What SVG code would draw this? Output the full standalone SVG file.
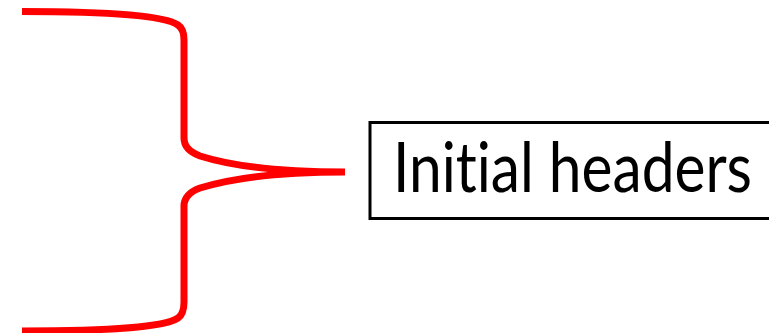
<svg xmlns="http://www.w3.org/2000/svg" width="769" height="333" viewBox="0 0 769 333">
<style>
.brace{fill:none;stroke:#ff0000;stroke-width:7;stroke-linejoin:miter;stroke-linecap:butt}
.box{fill:#ffffff;stroke:#000000;stroke-width:3}
.lbl{font-family:Lato,"Open Sans","Liberation Sans",sans-serif;font-size:70px;fill:#000000;font-variant-ligatures:none;font-feature-settings:"liga" 0,"dlig" 0}
</style>
<rect width="769" height="333" fill="#ffffff"/>
<g id="connectors">
<path class="brace" d="M22,11.5 C110,11.5 165,16 178,25 Q184,29 184,40 V138 Q184,150 200,156 C235,167 280,172 345,172 C280,172 235,177 200,188 Q184,194 184,206 V302 Q184,314 178,318 C165,327 110,331 22,331"/>
</g>
<g id="node-initial-headers">
<rect class="box" x="370" y="122.5" width="420" height="96"/>
<text class="lbl" x="393" y="192" textLength="359" lengthAdjust="spacingAndGlyphs">Initial headers</text>
</g>
</svg>
